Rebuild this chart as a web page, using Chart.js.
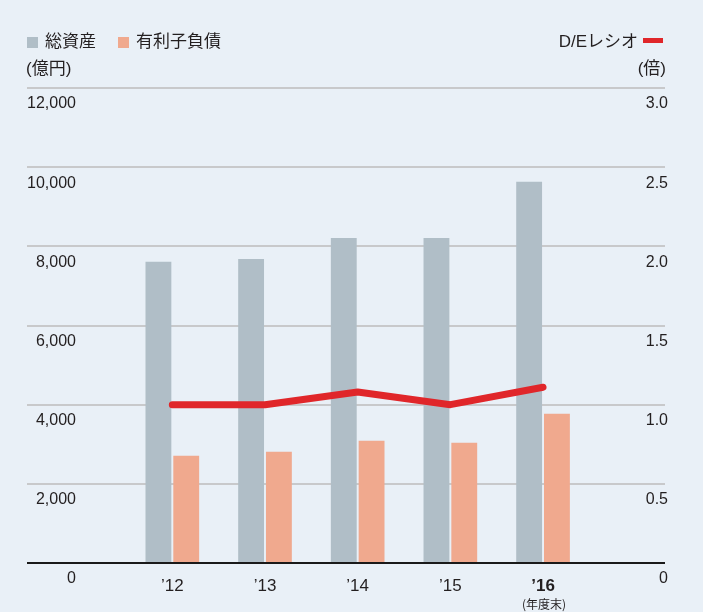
<!DOCTYPE html>
<html lang="ja">
<head>
<meta charset="utf-8">
<script src="https://cdn.jsdelivr.net/npm/chart.js@4"></script>
<style>
  html, body { margin: 0; padding: 0; }
  body {
    width: 703px; height: 612px; background: #e9f0f7; position: relative; overflow: hidden;
    font-family: "Liberation Sans", Arial, "Noto Sans CJK JP", sans-serif; color: #231f20;
  }
  #chartBox { position: absolute; left: 0; top: 0; width: 703px; height: 612px; }
  .legend { position: absolute; top: 32px; font-size: 17px; line-height: 20px; white-space: nowrap; }
  .legend .sw { display: inline-block; width: 11px; height: 11px; vertical-align: -1px; margin-right: 7px; }
  .unit { position: absolute; top: 59px; font-size: 17px; line-height: 20px; }
  .dash { display: inline-block; width: 20px; height: 5px; background: #e0262a; vertical-align: 4px; margin-left: 5px; }
</style>
</head>
<body>
<div id="chartBox"><canvas id="chart" width="703" height="612"></canvas></div>

<!-- 凡例と単位 -->
<div class="legend" style="left:27px">
  <span class="sw" style="background:#b0bec7"></span>総資産<span style="display:inline-block;width:22px"></span><span class="sw" style="background:#f0a98e"></span>有利子負債
</div>
<div class="unit" style="left:26px">(億円)</div>
<div class="legend" style="right:40px">D/Eレシオ<span class="dash"></span></div>
<div class="unit" style="right:37px">(倍)</div>

<script>
// 🔹 DATA
const years = ["’12", "’13", "’14", "’15", "’16"];
const totalAssets = [7610, 7680, 8210, 8210, 9630];
const interestDebt = [2710, 2810, 3090, 3040, 3770];
const deRatio = [1.00, 1.00, 1.08, 1.00, 1.11];
const leftTicks = [0, 2000, 4000, 6000, 8000, 10000, 12000];
const rightTicks = [0, 0.5, 1.0, 1.5, 2.0, 2.5, 3.0];

// 年度を 0..4 の位置に置く（左右の余白は非対称）
const points = arr => arr.map((v, i) => ({ x: i, y: v }));

// 🔹 '16 の下に (年度末)
const fiscalNote = {
  id: "fiscalNote",
  afterDraw(chart) {
    const x = chart.scales.x.getPixelForValue(years.length - 1);
    const ctx = chart.ctx;
    ctx.save();
    ctx.font = '12px "Noto Sans CJK JP", sans-serif';
    ctx.fillStyle = "#231f20";
    ctx.textAlign = "center";
    ctx.textBaseline = "middle";
    ctx.fillText("(年度末)", x + 1, 604);
    ctx.restore();
  }
};

const axisFont = { family: '"Liberation Sans", Arial, sans-serif', size: 16 };

new Chart(document.getElementById("chart"), {
  type: "bar",
  data: {
    datasets: [
      {
        type: "line",
        label: "D/Eレシオ",
        data: points(deRatio),
        yAxisID: "y2",
        borderColor: "#e0262a",
        borderWidth: 7,
        borderCapStyle: "round",
        borderJoinStyle: "round",
        pointRadius: 0,
        tension: 0,
        order: 0
      },
      {
        label: "総資産",
        data: points(totalAssets),
        backgroundColor: "#b0bec7",
        categoryPercentage: 0.6,
        barPercentage: 0.93,
        order: 1
      },
      {
        label: "有利子負債",
        data: points(interestDebt),
        backgroundColor: "#f0a98e",
        categoryPercentage: 0.6,
        barPercentage: 0.93,
        order: 1
      }
    ]
  },
  options: {
    responsive: false,
    animation: false,
    layout: { padding: { left: 27, right: 32, top: 88, bottom: 9 } },
    plugins: { legend: { display: false }, tooltip: { enabled: false } },
    scales: {
      x: {
        type: "linear",
        offset: false,
        min: -1.568,
        max: 5.316,
        afterBuildTicks: s => { s.ticks = years.map((_, i) => ({ value: i })); },
        afterFit: s => { s.height = 40; },
        grid: { display: false },
        border: { display: false },
        ticks: {
          padding: 5,
          autoSkip: false,
          maxRotation: 0,
          color: "#231f20",
          font: c => ({ ...axisFont, size: 17, weight: c.index === years.length - 1 ? "bold" : "normal" }),
          callback: v => years[v]
        }
      },
      y: {
        position: "left",
        min: 0,
        max: 12000,
        afterBuildTicks: s => { s.ticks = leftTicks.map(v => ({ value: v })); },
        border: { display: false },
        grid: {
          drawTicks: false,
          lineWidth: 2,
          color: c => c.tick && c.tick.value === 0 ? "#1a1a1a" : "#c8c9cb"
        },
        ticks: {
          mirror: true,
          crossAlign: "far",
          padding: 0,
          labelOffset: 16,
          color: "#231f20",
          font: axisFont,
          callback: v => v.toLocaleString("en-US")
        }
      },
      y2: {
        position: "right",
        min: 0,
        max: 3,
        afterBuildTicks: s => { s.ticks = rightTicks.map(v => ({ value: v })); },
        border: { display: false },
        grid: { display: false, drawTicks: false },
        ticks: {
          mirror: true,
          padding: 3,
          labelOffset: 16,
          color: "#231f20",
          font: axisFont,
          callback: v => v === 0 ? "0" : v.toFixed(1)
        }
      }
    }
  },
  plugins: [fiscalNote]
});
</script>
</body>
</html>
